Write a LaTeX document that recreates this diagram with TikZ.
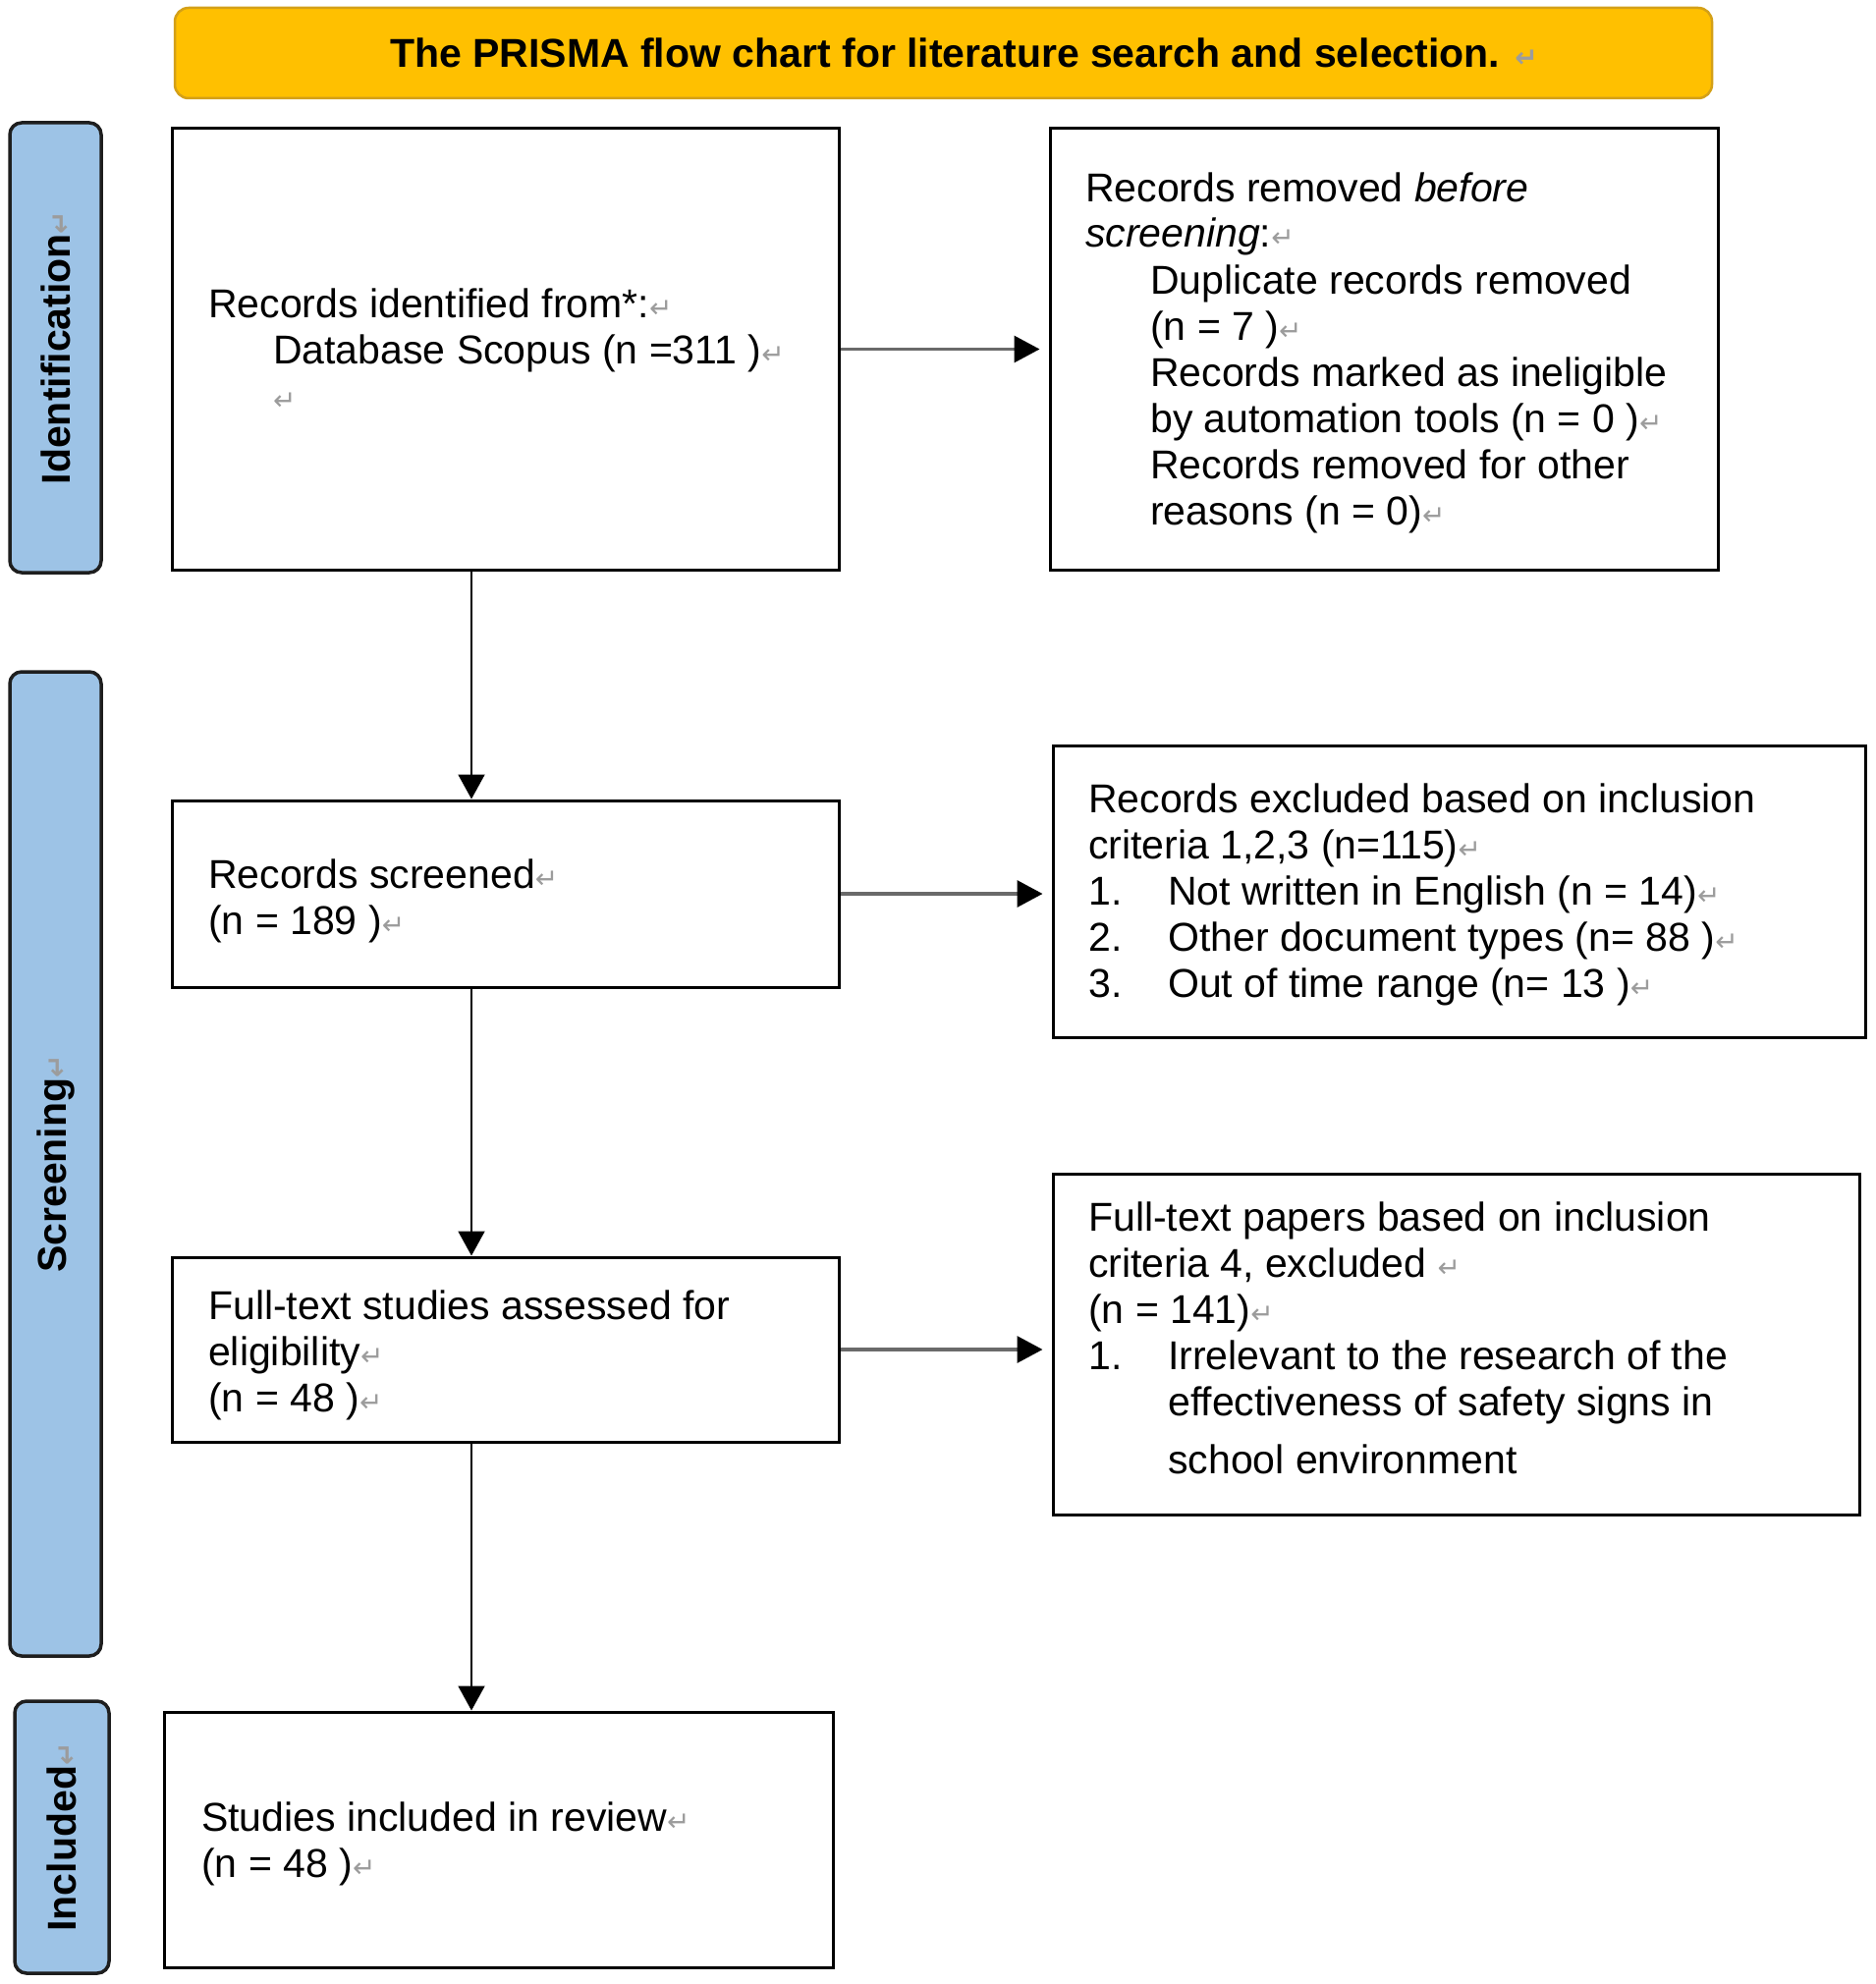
\documentclass[tikz,border=0pt]{standalone}
\usepackage{fontspec}
\setmainfont{Liberation Sans}
\newfontfamily\symf{DejaVu Sans}
\usetikzlibrary{arrows.meta}
\definecolor{titlefill}{HTML}{FFC000}
\definecolor{titledraw}{HTML}{D4A017}
\definecolor{labfill}{HTML}{9DC3E6}
\definecolor{labdraw}{HTML}{1E1E1E}
\definecolor{markgray}{HTML}{9C9C9C}
\definecolor{hline}{HTML}{6A6A6A}
\newcommand{\rtn}{{\symf\color{markgray}\fontsize{28}{28}\selectfont ↵}}
\newcommand{\fs}{\fontsize{41}{47}\selectfont}
\newcommand{\ind}{\hspace*{66pt}}
\newcommand{\num}[1]{\makebox[81pt][l]{#1}}
\tikzset{
  box/.style={draw=black, line width=3pt, fill=white, inner sep=0pt},
  lab/.style={draw=labdraw, line width=3.5pt, fill=labfill, rounded corners=12pt, inner sep=0pt},
  labtxt/.style={rotate=90, inner sep=0pt, font=\fs\bfseries},
  txt/.style={anchor=base west, inner sep=0pt, align=left},
  varr/.style={line width=2pt, -{Triangle[length=25pt,width=27pt]}},
  harr/.style={draw=hline, line width=3.2pt, shorten >=9pt, -{Triangle[length=26pt,width=27pt,color=black,fill=black]}},
}
\begin{document}
\begin{tikzpicture}[x=1pt,y=-1pt]
\useasboundingbox (0,0) rectangle (1910,2020);
\fill[white] (0,0) rectangle (1910,2020);

% title
\node[draw=titledraw, line width=2.5pt, fill=titlefill, rounded corners=14pt,
      minimum width=1565pt, minimum height=92pt, inner sep=0pt] (title) at (960.5,54) {};
\node[txt] (titletxt) at (397,69) {\fs\bfseries The PRISMA flow chart for literature search and selection. \rtn};

% phase labels
\node[lab, minimum width=93pt, minimum height=458pt] (lab1) at (56.5,354) {};
\node[labtxt] (lab1t) at (lab1.center) {Identification\rtn};
\node[lab, minimum width=93pt, minimum height=1002pt] (lab2) at (56.5,1185) {};
\node[labtxt] (lab2t) at (lab2.center) {Screening\rtn};
\node[lab, minimum width=96pt, minimum height=277pt] (lab3) at (63,1870.5) {};
\node[labtxt] (lab3t) at (lab3.center) {Included\rtn};

% boxes
\node[box, minimum width=679pt, minimum height=449pt] (b1) at (514.5,355.5) {};
\node[box, minimum width=680pt, minimum height=449pt] (b2) at (1409,355.5) {};
\node[box, minimum width=679pt, minimum height=190pt] (b3) at (514.5,910) {};
\node[box, minimum width=827pt, minimum height=297pt] (b4) at (1485.5,907.5) {};
\node[box, minimum width=679pt, minimum height=188pt] (b5) at (514.5,1374) {};
\node[box, minimum width=821pt, minimum height=347pt] (b6) at (1482.5,1368.5) {};
\node[box, minimum width=681pt, minimum height=260pt] (b7) at (507.5,1873) {};

% texts
\node[txt] (t1) at (212,323) {\parbox[t]{620pt}{\fs\raggedright
Records identified from*:\rtn\\
\ind Database Scopus (n =311 )\rtn\\
\ind\rtn}};
\node[txt] (t2) at (1105,205) {\parbox[t]{630pt}{\fs\raggedright
Records removed \textit{before}\\
\textit{screening}:\rtn\\
\ind Duplicate records removed\\
\ind (n = 7 )\rtn\\
\ind Records marked as ineligible\\
\ind by automation tools (n = 0 )\rtn\\
\ind Records removed for other\\
\ind reasons (n = 0)\rtn}};
\node[txt] (t3) at (212,904) {\parbox[t]{620pt}{\fs\raggedright
Records screened\rtn\\
(n = 189 )\rtn}};
\node[txt] (t4) at (1108,827) {\parbox[t]{770pt}{\fs\raggedright
Records excluded based on inclusion\\
criteria 1,2,3 (n=115)\rtn\\
\num{1.}Not written in English (n = 14)\rtn\\
\num{2.}Other document types (n= 88 )\rtn\\
\num{3.}Out of time range (n= 13 )\rtn}};
\node[txt] (t5) at (212,1343) {\parbox[t]{620pt}{\fs\raggedright
Full-text studies assessed for\\
eligibility\rtn\\
(n = 48 )\rtn}};
\node[txt] (t6) at (1108,1253) {\parbox[t]{760pt}{\fs\raggedright
Full-text papers based on inclusion\\
criteria 4, excluded \rtn\\
(n = 141)\rtn\\
\num{1.}Irrelevant to the research of the\\
\num{}effectiveness of safety signs in\\[12pt]
\num{}school environment}};
\node[txt] (t7) at (205,1864) {\parbox[t]{620pt}{\fs\raggedright
Studies included in review\rtn\\
(n = 48 )\rtn}};

% connectors
\coordinate (ax) at (480,0);
\draw[harr] (b1.east) -- (b2.west);
\draw[harr] (b3.east) -- (b4.west |- b3.east);
\draw[harr] (b5.east) -- (b6.west |- b5.east);
\draw[varr] (b1.south -| ax) -- (b3.north -| ax);
\draw[varr] (b3.south -| ax) -- (b5.north -| ax);
\draw[varr] (b5.south -| ax) -- (b7.north -| ax);
\end{tikzpicture}
\end{document}
